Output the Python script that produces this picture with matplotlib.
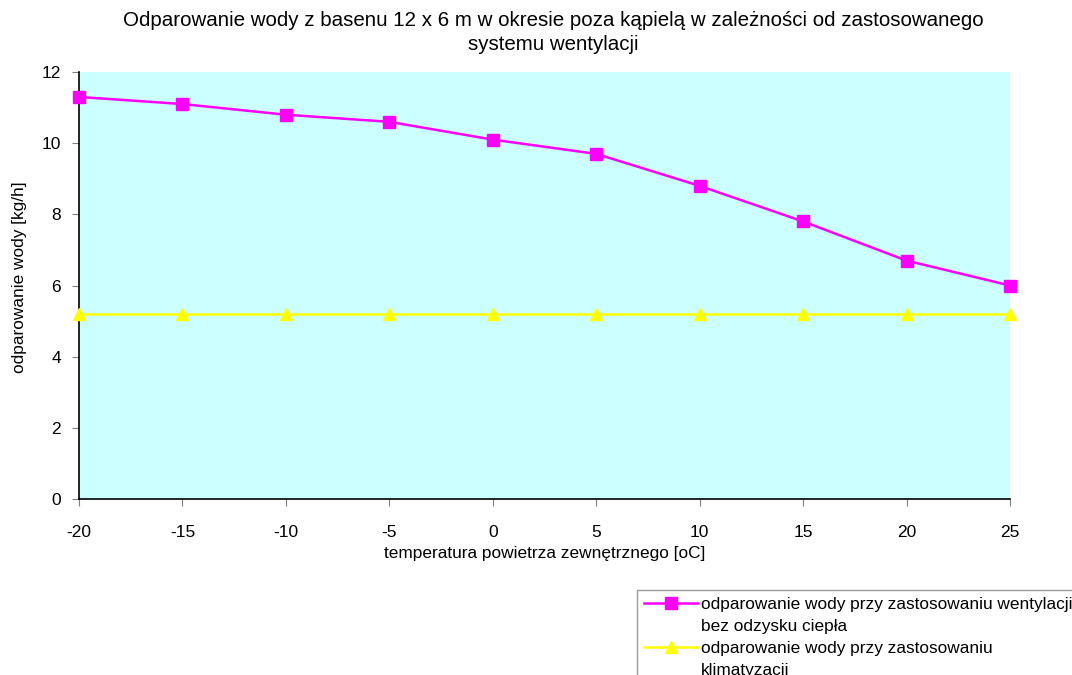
import matplotlib.pyplot as plt
from matplotlib.lines import Line2D

plt.rcParams['font.family'] = ['Liberation Sans', 'DejaVu Sans']
plt.rcParams['axes.unicode_minus'] = False

# temperatura zewnetrzna [oC]
temp = [-20, -15, -10, -5, 0, 5, 10, 15, 20, 25]
# odparowanie wody [kg/h]
wentylacja = [11.3, 11.1, 10.8, 10.6, 10.1, 9.7, 8.8, 7.8, 6.7, 6.0]
klimatyzacja = [5.2, 5.2, 5.2, 5.2, 5.2, 5.2, 5.2, 5.2, 5.2, 5.2]

fig = plt.figure(figsize=(10.72, 6.75), dpi=100)
ax = fig.add_axes([0.0737, 0.2607, 0.8685, 0.6326])
ax.set_facecolor('#CCFFFF')

l1, = ax.plot(temp, wentylacja, color='#FF00FF', marker='s', markersize=9, lw=1.8,
              clip_on=False, zorder=3)
l2, = ax.plot(temp, klimatyzacja, color='#FFFF00', marker='^', markersize=9, lw=1.8,
              clip_on=False, zorder=3)

ax.set_xlim(-20, 25)
ax.set_ylim(0, 12)
ax.set_xticks(temp)
ax.set_yticks(range(0, 13, 2))
ax.tick_params(direction='out', length=5, color='gray', labelsize=12.5)
ax.tick_params(axis='y', pad=8)
ax.tick_params(axis='x', pad=14)
for s in ['top', 'right']:
    ax.spines[s].set_visible(False)
ax.spines['left'].set_linewidth(1.2)
ax.spines['bottom'].set_linewidth(1.2)

ax.set_xlabel('temperatura powietrza zewnętrznego [oC]', fontsize=12.4, labelpad=4)
ax.set_ylabel('odparowanie wody [kg/h]', fontsize=12.4)
ax.yaxis.set_label_coords(-0.056, 0.52)
fig.text(0.516, 0.952, 'Odparowanie wody z basenu 12 x 6 m w okresie poza kąpielą w zależności od zastosowanego\nsystemu wentylacji',
         ha='center', va='center', fontsize=14.8, linespacing=1.38)

# legenda: druga linia opisu jako osobny wpis bez symbolu
blank = Line2D([], [], color='none')
handles = [l1, blank, l2, blank]
labels = ['odparowanie wody przy zastosowaniu wentylacji', 'bez odzysku ciepła',
          'odparowanie wody przy zastosowaniu', 'klimatyzacji']
leg = fig.legend(handles, labels, loc='upper left', bbox_to_anchor=(0.594, 0.126), fontsize=12.4,
                 frameon=True, fancybox=False, edgecolor='gray', borderpad=0.4,
                 handlelength=3.15, labelspacing=0.4, handletextpad=0.2, borderaxespad=0)
leg.get_frame().set_linewidth(1.0)

fig.savefig('out.png', dpi=100)
